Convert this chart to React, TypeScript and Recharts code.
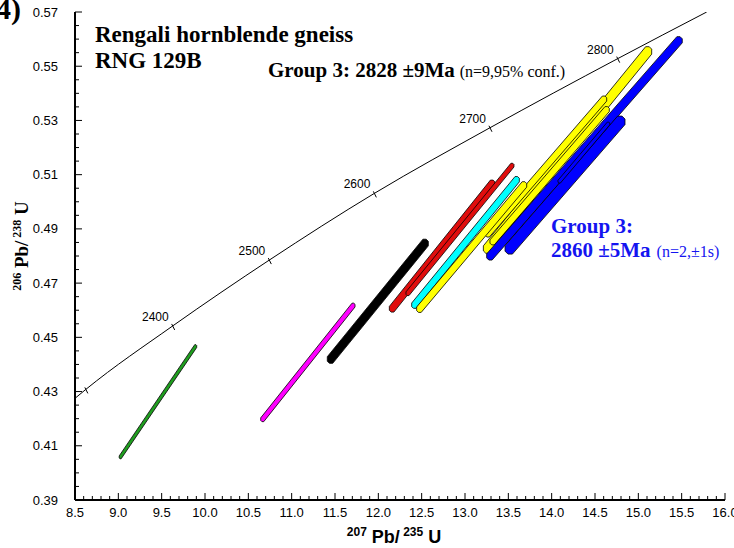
import React from "react";
import { ComposedChart, XAxis, YAxis, Line, Scatter, ReferenceArea } from "recharts";

// axis labels
const xMajor = [8.5, 9.0, 9.5, 10.0, 10.5, 11.0, 11.5, 12.0, 12.5, 13.0, 13.5, 14.0, 14.5, 15.0, 15.5, 16.0];
const yMajor = [0.39, 0.41, 0.43, 0.45, 0.47, 0.49, 0.51, 0.53, 0.55, 0.57];

// concordia curve
const concordiaX = [8.5, 8.625, 9.627, 10.742, 11.954, 13.288, 14.762, 15.789];
const concordiaY = [0.4275, 0.4308, 0.4542, 0.4785, 0.5031, 0.5273, 0.5528, 0.57];

// age marks on the concordia (Ma)
const ages = [2300, 2400, 2500, 2600, 2700, 2800];
const ageX = [8.625, 9.627, 10.742, 11.954, 13.288, 14.762];
const ageY = [0.4308, 0.4542, 0.4785, 0.5031, 0.5273, 0.5528];
const agesLabelled = [2400, 2500, 2600, 2700, 2800];

// error shapes: lower-left / upper-right corners and horizontal error width
const spotGroup = ["green", "magenta", "black", "red", "red", "cyan", "yellow", "yellow", "yellow", "yellow", "blue", "blue", "blue"];
const spotX1 = [9.01, 10.643, 11.411, 12.127, 12.319, 12.385, 13.212, 13.231, 13.288, 12.442, 13.25, 13.462, 14.073];
const spotX2 = [9.904, 11.731, 12.577, 13.346, 13.565, 13.627, 15.154, 14.635, 14.665, 13.712, 15.507, 14.846, 14.67];
const spotY1 = [0.4052, 0.4189, 0.4404, 0.4593, 0.4654, 0.4607, 0.481, 0.487, 0.4841, 0.4592, 0.4785, 0.4807, 0.5069];
const spotY2 = [0.4473, 0.4626, 0.4862, 0.508, 0.5142, 0.5093, 0.5572, 0.539, 0.5351, 0.5074, 0.5609, 0.5316, 0.5294];
const spotDx = [0.045, 0.07, 0.125, 0.105, 0.07, 0.1, 0.14, 0.1, 0.1, 0.105, 0.125, 0.17, 0.055];

const groupColor: Record<string, string> = {
  green: "#1f9e1f",
  magenta: "#ff00ff",
  black: "#000000",
  red: "#e00d0d",
  cyan: "#00ffff",
  yellow: "#ffff00",
  blue: "#0000ff",
};

function subdivide(major: number[], n: number) {
  const out: number[] = [];
  for (let i = 0; i < major.length - 1; i++) {
    for (let k = 0; k < n; k++) {
      out.push(Math.round((major[i] + ((major[i + 1] - major[i]) * k) / n) * 10000) / 10000);
    }
  }
  out.push(major[major.length - 1]);
  return out;
}

const xTicks = subdivide(xMajor, 5);
const yTicks = subdivide(yMajor, 4);
const isMajor = (list: number[], v: number) => list.some((m) => Math.abs(m - v) < 1e-6);

const concordia = concordiaX.map((x, i) => ({ x, y: concordiaY[i] }));
const ageMarks = ages.map((age, i) => ({ age, x: ageX[i], y: ageY[i] }));

const SANS = "'Liberation Sans', Arial, sans-serif";
const SERIF = "'Liberation Serif', 'Times New Roman', serif";
const MAJOR = 7;
const MINOR = 4;

function BottomTick(props: any) {
  const { x, y, payload } = props;
  const major = isMajor(xMajor, payload.value);
  return (
    <g>
      <line x1={x} y1={y} x2={x} y2={y - (major ? MAJOR : MINOR)} stroke="#000" strokeWidth={1} />
      {major && (
        <text x={x} y={y + 17} textAnchor="middle" fontSize={13} fontFamily={SANS} fill="#000">
          {payload.value.toFixed(1)}
        </text>
      )}
    </g>
  );
}

function TopTick(props: any) {
  const { x, y, payload } = props;
  const major = isMajor(xMajor, payload.value);
  return <line x1={x} y1={y} x2={x} y2={y + (major ? MAJOR : MINOR)} stroke="#000" strokeWidth={1} />;
}

function LeftTick(props: any) {
  const { x, y, payload } = props;
  const major = isMajor(yMajor, payload.value);
  return (
    <g>
      <line x1={x} y1={y} x2={x + (major ? MAJOR : MINOR)} y2={y} stroke="#000" strokeWidth={1} />
      {major && (
        <text x={x - 17} y={y + 4.5} textAnchor="end" fontSize={13} fontFamily={SANS} fill="#000">
          {payload.value.toFixed(2)}
        </text>
      )}
    </g>
  );
}

function RightTick(props: any) {
  const { x, y, payload } = props;
  const major = isMajor(yMajor, payload.value);
  return <line x1={x} y1={y} x2={x - (major ? MAJOR : MINOR)} y2={y} stroke="#000" strokeWidth={1} />;
}

function AgeMark(props: any) {
  const { cx, cy, payload } = props;
  return (
    <g>
      <line x1={cx - 1} y1={cy - 2} x2={cx + 2} y2={cy + 4} stroke="#000" strokeWidth={1} />
      {agesLabelled.includes(payload.age) && (
        <text x={cx - 4} y={cy - 5} textAnchor="end" fontSize={12} fontFamily={SANS} fill="#000">
          {payload.age}
        </text>
      )}
    </g>
  );
}

// draws the slanted error box inside the rectangle that the axes give for its corners
function spotShape(dx: number, xSpan: number, fill: string) {
  return (props: any) => {
    const { x, y, width, height } = props;
    const L = x;
    const R = x + width;
    const T = y;
    const B = y + height;
    // horizontal band width in px, split between the two corner offsets
    const band = (dx / xSpan) * width;
    const w = band / 2;
    const h = (band / 2) * (height / width);
    const c = Math.min(w, h) * 0.4;
    const pts = [
      [L, B - h],
      [L, B - c],
      [L + c, B],
      [L + w, B],
      [R, T + h],
      [R, T + c],
      [R - c, T],
      [R - w, T],
    ];
    return (
      <polygon
        points={pts.map((p) => `${p[0]},${p[1]}`).join(" ")}
        fill={fill}
        stroke="#000"
        strokeWidth={0.8}
        strokeLinejoin="miter"
      />
    );
  };
}

export default function App() {
  return (
    <div style={{ position: "absolute", left: 0, top: 0, width: 734, height: 548, background: "#fff" }}>
      <ComposedChart width={734} height={548} margin={{ top: 12, right: 9, bottom: 0, left: 0 }}>
        <XAxis
          dataKey="x"
          type="number"
          domain={[8.5, 16]}
          allowDataOverflow
          ticks={xTicks}
          interval={0}
          height={48}
          tickSize={0}
          tickMargin={0}
          tickLine={false}
          axisLine={{ stroke: "#000", strokeWidth: 2 }}
          tick={BottomTick}
        />
        <XAxis
          xAxisId="t"
          dataKey="x"
          orientation="top"
          type="number"
          domain={[8.5, 16]}
          allowDataOverflow
          ticks={xTicks}
          interval={0}
          height={0}
          tickSize={0}
          tickMargin={0}
          tickLine={false}
          axisLine={{ stroke: "#000", strokeWidth: 2 }}
          tick={TopTick}
        />
        <YAxis
          dataKey="y"
          type="number"
          domain={[0.39, 0.57]}
          allowDataOverflow
          ticks={yTicks}
          interval={0}
          width={75}
          tickSize={0}
          tickMargin={0}
          tickLine={false}
          axisLine={{ stroke: "#000", strokeWidth: 2 }}
          tick={LeftTick}
        />
        <YAxis
          yAxisId="r"
          dataKey="y"
          orientation="right"
          type="number"
          domain={[0.39, 0.57]}
          allowDataOverflow
          ticks={yTicks}
          interval={0}
          width={0}
          tickSize={0}
          tickMargin={0}
          tickLine={false}
          axisLine={{ stroke: "#000", strokeWidth: 2 }}
          tick={RightTick}
        />
        <Scatter xAxisId="t" yAxisId="r" data={concordia} shape={() => <g />} isAnimationActive={false} />
        <Line
          data={concordia}
          dataKey="y"
          type="monotone"
          stroke="#000"
          strokeWidth={1}
          dot={false}
          activeDot={false}
          isAnimationActive={false}
        />
        <Scatter data={ageMarks} dataKey="y" shape={AgeMark} isAnimationActive={false} />
        {spotGroup.map((g, i) => (
          <ReferenceArea
            key={i}
            x1={spotX1[i]}
            x2={spotX2[i]}
            y1={spotY1[i]}
            y2={spotY2[i]}
            ifOverflow="visible"
            shape={spotShape(spotDx[i], spotX2[i] - spotX1[i], groupColor[g])}
          />
        ))}
      </ComposedChart>
      <svg
        width={734}
        height={548}
        style={{ position: "absolute", left: 0, top: 0, pointerEvents: "none" }}
      >
        <text x={-4} y={19} fontSize={30} fontWeight="bold" fontFamily={SERIF}>4)</text>
        <text x={95} y={42} fontSize={23} fontWeight="bold" fontFamily={SERIF}>Rengali hornblende gneiss</text>
        <text x={95} y={68} fontSize={23} fontWeight="bold" fontFamily={SERIF}>RNG 129B</text>
        <text x={268} y={77} fontFamily={SERIF}>
          <tspan fontSize={21} fontWeight="bold">Group 3: 2828 ±9Ma</tspan>
          <tspan fontSize={16} dx={5}>(n=9,95% conf.)</tspan>
        </text>
        <text x={551} y={233} fontSize={21} fontWeight="bold" fontFamily={SERIF} fill="#1414f0">Group 3:</text>
        <text x={551} y={257} fontFamily={SERIF} fill="#1414f0">
          <tspan fontSize={21} fontWeight="bold">2860 ±5Ma</tspan>
          <tspan fontSize={16} dx={6}>(n=2,±1s)</tspan>
        </text>
        <text transform="translate(28,246) rotate(-90)" textAnchor="middle" fontFamily={SERIF} fontWeight="bold">
          <tspan fontSize={12} dy={-7}>206</tspan>
          <tspan fontSize={19} dy={7}> Pb/</tspan>
          <tspan fontSize={12} dy={-7}> 238</tspan>
          <tspan fontSize={19} dy={7}> U</tspan>
        </text>
        <text x={394} y={543} textAnchor="middle" fontFamily={SANS} fontWeight="bold">
          <tspan fontSize={12} dy={-7}>207</tspan>
          <tspan fontSize={18} dy={7}> Pb/</tspan>
          <tspan fontSize={12} dy={-7}> 235</tspan>
          <tspan fontSize={18} dy={7}> U</tspan>
        </text>
      </svg>
    </div>
  );
}
